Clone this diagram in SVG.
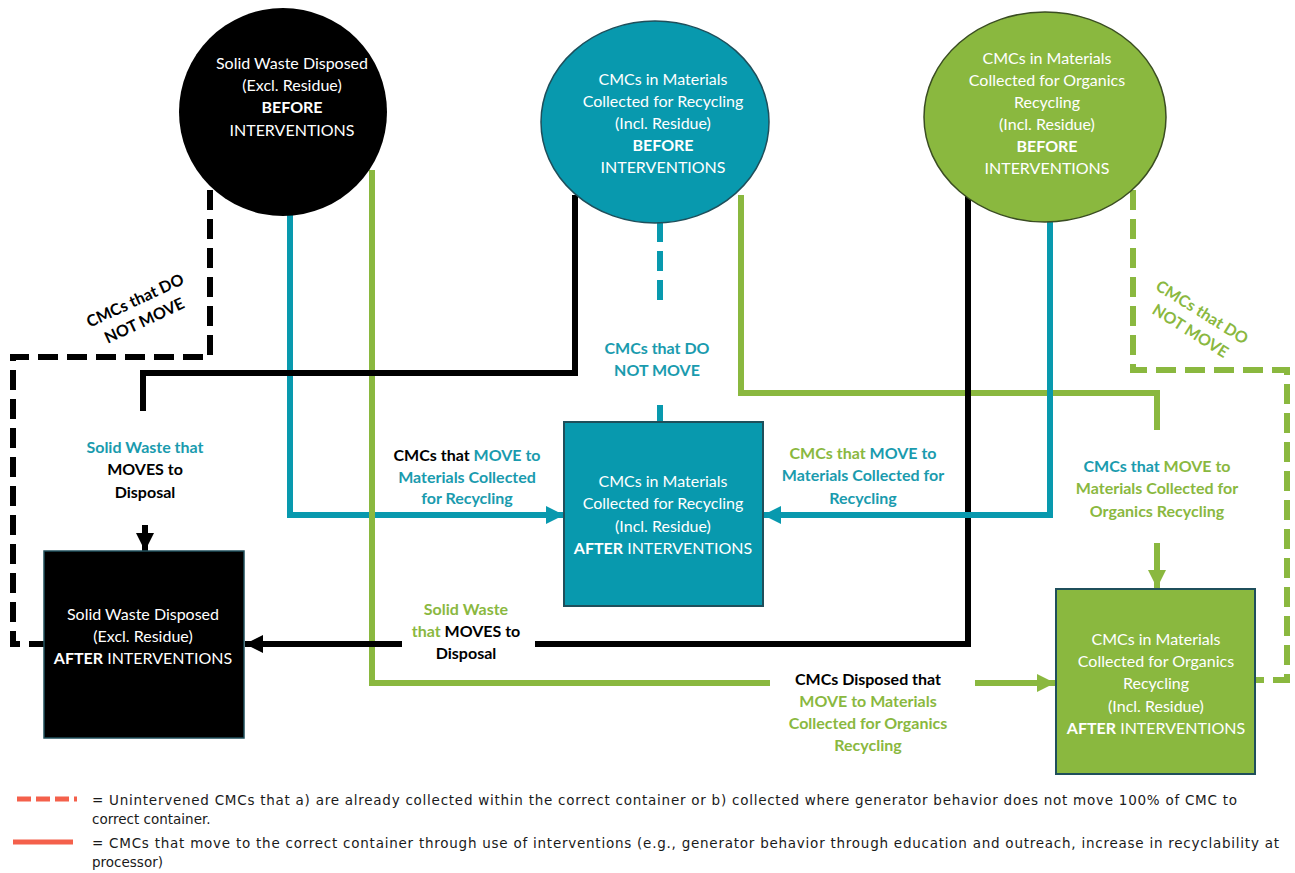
<svg xmlns="http://www.w3.org/2000/svg" width="1295" height="873" viewBox="0 0 1295 873">
<style>
  .t{font-family:Lato,"Liberation Sans",sans-serif;font-size:16px;text-anchor:middle}
  .w{fill:#ffffff}
  .b{font-weight:bold}
  .lbl{font-family:Lato,"Liberation Sans",sans-serif;font-size:16px;font-weight:bold;text-anchor:middle}
  .k{fill:#000000}
  .tc{fill:#1A9BAE}
  .gc{fill:#8AB83F}
  .ln{fill:none;stroke-width:6}
  .blk{stroke:#000000}
  .teal{stroke:#0899AE}
  .grn{stroke:#8AB83F}
  .dash{stroke-dasharray:20 9}
  .leg{font-family:"DejaVu Sans","Liberation Sans",sans-serif;font-size:13.5px;fill:#1a1a1a}
</style>
<defs>
  <marker id="ak" markerUnits="userSpaceOnUse" markerWidth="20" markerHeight="20" viewBox="0 0 20 20" refX="18" refY="10" orient="auto"><path d="M0,1 L18,10 L0,19 Z" fill="#000000"/></marker>
  <marker id="at" markerUnits="userSpaceOnUse" markerWidth="20" markerHeight="20" viewBox="0 0 20 20" refX="18" refY="10" orient="auto"><path d="M0,1 L18,10 L0,19 Z" fill="#0899AE"/></marker>
  <marker id="ag" markerUnits="userSpaceOnUse" markerWidth="20" markerHeight="20" viewBox="0 0 20 20" refX="18" refY="10" orient="auto"><path d="M0,1 L18,10 L0,19 Z" fill="#8AB83F"/></marker>
</defs>

<g id="connectors">
  <path class="ln blk dash" d="M210,190 V357 H13 V644 H44"/>
  <path class="ln teal" d="M290,200 V515 H564" marker-end="url(#at)"/>
  <path class="ln grn" d="M372,170 V683 H770"/>
  <path class="ln grn" d="M975,683 H1055" marker-end="url(#ag)"/>
  <path class="ln blk" d="M575,195 V373 H143 V411"/>
  <path class="ln blk" d="M145,525 V551" marker-end="url(#ak)"/>
  <path class="ln teal dash" d="M660,222 V306"/>
  <path class="ln teal" d="M660,405 V422"/>
  <path class="ln grn" d="M741,195 V393 H1157 V430"/>
  <path class="ln grn" d="M1157,543 V588" marker-end="url(#ag)"/>
  <path class="ln blk" d="M968,190 V644 H535"/>
  <path class="ln blk" d="M402,644 H245" marker-end="url(#ak)"/>
  <path class="ln teal" d="M1050,200 V515 H763" marker-end="url(#at)"/>
  <path class="ln grn dash" d="M1133,190 V370 H1287 V680 H1256"/>
</g>

<g id="node-disposed-before">
  <circle cx="283" cy="112" r="104" fill="#000000"/>
  <text class="t w" x="292" y="69">Solid Waste Disposed</text>
  <text class="t w" x="292" y="91">(Excl. Residue)</text>
  <text class="t w b" x="292" y="113">BEFORE</text>
  <text class="t w" x="292" y="136">INTERVENTIONS</text>
</g>

<g id="node-recycling-before">
  <ellipse cx="655" cy="122" rx="114" ry="101" fill="#0899AE" stroke="#1F4F5B" stroke-width="1.5"/>
  <text class="t w" x="663" y="85">CMCs in Materials</text>
  <text class="t w" x="663" y="107">Collected for Recycling</text>
  <text class="t w" x="663" y="129">(Incl. Residue)</text>
  <text class="t w b" x="663" y="151">BEFORE</text>
  <text class="t w" x="663" y="173">INTERVENTIONS</text>
</g>

<g id="node-organics-before">
  <ellipse cx="1045" cy="117" rx="121" ry="105" fill="#8AB83F" stroke="#3A4D22" stroke-width="1.5"/>
  <text class="t w" x="1047" y="64">CMCs in Materials</text>
  <text class="t w" x="1047" y="86">Collected for Organics</text>
  <text class="t w" x="1047" y="108">Recycling</text>
  <text class="t w" x="1047" y="130">(Incl. Residue)</text>
  <text class="t w b" x="1047" y="152">BEFORE</text>
  <text class="t w" x="1047" y="174">INTERVENTIONS</text>
</g>

<g id="node-disposed-after">
  <rect x="44" y="551" width="200" height="187" fill="#000000" stroke="#1F4F5B" stroke-width="1.5"/>
  <text class="t w" x="143" y="620">Solid Waste Disposed</text>
  <text class="t w" x="143" y="642">(Excl. Residue)</text>
  <text class="t w" x="143" y="664"><tspan class="b">AFTER</tspan> INTERVENTIONS</text>
</g>

<g id="node-recycling-after">
  <rect x="564" y="422" width="199" height="184" fill="#0899AE" stroke="#1F4F5B" stroke-width="2"/>
  <text class="t w" x="663" y="487">CMCs in Materials</text>
  <text class="t w" x="663" y="509">Collected for Recycling</text>
  <text class="t w" x="663" y="532">(Incl. Residue)</text>
  <text class="t w" x="663" y="554"><tspan class="b">AFTER</tspan> INTERVENTIONS</text>
</g>

<g id="node-organics-after">
  <rect x="1056" y="589" width="199" height="185" fill="#8AB83F" stroke="#1F4F5B" stroke-width="2"/>
  <text class="t w" x="1156" y="645">CMCs in Materials</text>
  <text class="t w" x="1156" y="667">Collected for Organics</text>
  <text class="t w" x="1156" y="689">Recycling</text>
  <text class="t w" x="1156" y="712">(Incl. Residue)</text>
  <text class="t w" x="1156" y="734"><tspan class="b">AFTER</tspan> INTERVENTIONS</text>
</g>

<g id="labels">
  <g transform="translate(140,311) rotate(-25)">
    <text class="lbl k" x="0" y="-6">CMCs that DO</text>
    <text class="lbl k" x="0" y="16">NOT MOVE</text>
  </g>
  <g transform="translate(1196,322) rotate(32)">
    <text class="lbl gc" x="0" y="-6">CMCs that DO</text>
    <text class="lbl gc" x="0" y="16">NOT MOVE</text>
  </g>
  <text class="lbl tc" x="657" y="354">CMCs that DO</text>
  <text class="lbl tc" x="657" y="376">NOT MOVE</text>

  <text class="lbl tc" x="145" y="453">Solid Waste that</text>
  <text class="lbl k" x="145" y="475">MOVES to</text>
  <text class="lbl k" x="145" y="498">Disposal</text>

  <text class="lbl" x="467" y="461"><tspan class="k">CMCs that </tspan><tspan class="tc">MOVE to</tspan></text>
  <text class="lbl tc" x="467" y="483">Materials Collected</text>
  <text class="lbl tc" x="467" y="504">for Recycling</text>

  <text class="lbl" x="863" y="459"><tspan class="gc">CMCs that </tspan><tspan class="tc">MOVE to</tspan></text>
  <text class="lbl tc" x="863" y="481">Materials Collected for</text>
  <text class="lbl tc" x="863" y="504">Recycling</text>

  <text class="lbl" x="1157" y="472"><tspan class="tc">CMCs that </tspan><tspan class="gc">MOVE to</tspan></text>
  <text class="lbl gc" x="1157" y="494">Materials Collected for</text>
  <text class="lbl gc" x="1157" y="517">Organics Recycling</text>

  <text class="lbl gc" x="466" y="615">Solid Waste</text>
  <text class="lbl" x="466" y="637"><tspan class="gc">that </tspan><tspan class="k">MOVES to</tspan></text>
  <text class="lbl k" x="466" y="659">Disposal</text>

  <text class="lbl k" x="868" y="685">CMCs Disposed that</text>
  <text class="lbl gc" x="868" y="707">MOVE to Materials</text>
  <text class="lbl gc" x="868" y="729">Collected for Organics</text>
  <text class="lbl gc" x="868" y="751">Recycling</text>
</g>

<g id="legend">
  <line x1="17" y1="799" x2="77" y2="799" stroke="#F4604B" stroke-width="5" stroke-dasharray="14 5"/>
  <line x1="13" y1="842" x2="73" y2="842" stroke="#F4604B" stroke-width="5"/>
  <text class="leg" x="92" y="805" textLength="1145" lengthAdjust="spacing">= Unintervened CMCs that a) are already collected within the correct container or b) collected where generator behavior does not move 100% of CMC to</text>
  <text class="leg" x="92" y="824">correct container.</text>
  <text class="leg" x="92" y="848" textLength="1187" lengthAdjust="spacing">= CMCs that move to the correct container through use of interventions (e.g.,  generator behavior through education and outreach, increase in recyclability at</text>
  <text class="leg" x="92" y="867">processor)</text>
</g>
</svg>
